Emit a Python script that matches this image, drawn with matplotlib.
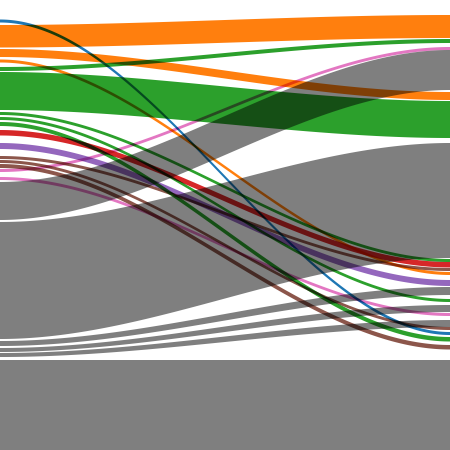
import numpy as np
import matplotlib
matplotlib.use("Agg")
import matplotlib.pyplot as plt

# flows between a left and a right column, y measured from the top (0..450)
flow_colors = ["tab:blue", "tab:orange", "tab:orange", "tab:orange", "tab:green",
               "tab:green", "tab:green", "tab:green", "tab:green", "tab:red",
               "tab:purple", "tab:brown", "tab:brown", "tab:brown", "tab:pink",
               "tab:pink", "tab:gray", "tab:gray", "tab:gray", "tab:gray",
               "tab:gray", "tab:gray"]
left_top = [19.5, 25, 49, 59.5, 67, 72, 112, 117, 122, 130, 143, 156, 160, 164,
            169, 177, 182, 222, 341, 348, 353, 360]
right_top = [332, 15, 92, 272, 39, 101, 259, 299, 337, 262, 280, 268, 327, 345,
             47, 313, 50, 143, 287, 305, 320, 360]
left_size = [3, 22.5, 8, 3, 4, 38, 3, 3, 4, 5.5, 6, 3, 3, 4,
             3, 3, 38, 117, 5, 4, 4, 90]
right_size = [3, 23, 8, 3, 4, 37, 3, 3, 4.5, 5.5, 6, 3, 3, 4.5,
              3, 3, 40, 115, 8, 7, 7, 90]

x = np.linspace(0, 1, 300)
s = 3 * x**2 - 2 * x**3  # smooth step between the two columns

fig = plt.figure(figsize=(4.5, 4.5), dpi=100)
ax = fig.add_axes([0, 0, 1, 1])
ax.set_xlim(0, 1)
ax.set_ylim(450, 0)
ax.axis("off")

# flows are blended with "multiply": draw each one alone and multiply the layers
canvas = fig.canvas
canvas.draw()
w, h = canvas.get_width_height()
product = np.ones((h, w, 3))
for c, lt, rt, ls, rs in zip(flow_colors, left_top, right_top, left_size, right_size):
    top = lt + (rt - lt) * s
    bottom = (lt + ls) + ((rt + rs) - (lt + ls)) * s
    poly = ax.fill_between(x, top, bottom, color=c, lw=0)
    canvas.draw()
    layer = np.asarray(canvas.buffer_rgba())[..., :3] / 255.0
    product *= layer
    poly.remove()

ax.imshow(product, extent=(0, 1, 450, 0), aspect="auto", interpolation="nearest")
fig.savefig("out.png", dpi=100)
